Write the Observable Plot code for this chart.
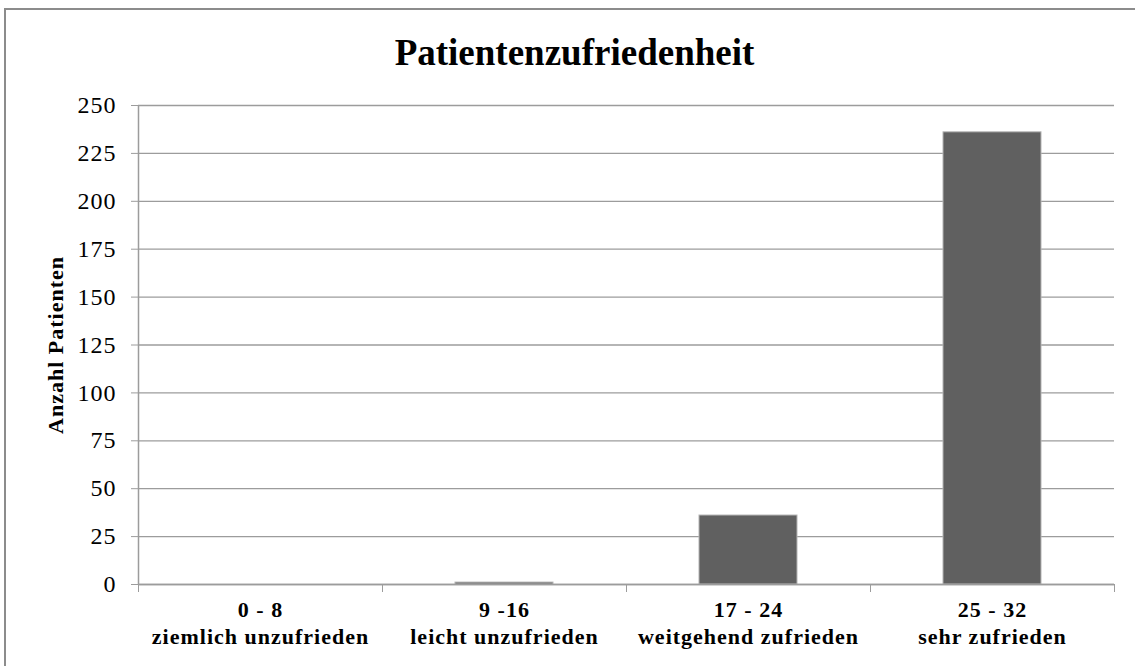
<!DOCTYPE html>
<html>
<head>
<meta charset="utf-8">
<script src="https://cdn.jsdelivr.net/npm/d3@7"></script>
<script src="https://cdn.jsdelivr.net/npm/@observablehq/plot@0.6"></script>
<style>
  body { margin: 0; background: #fff; }
  #chart { position: relative; width: 1135px; height: 666px; overflow: hidden; font-family: "Liberation Serif", "Times New Roman", serif; }
  #chart svg { position: absolute; left: 0; top: 0; }
  #chart svg text { font-family: "Liberation Serif", "Times New Roman", serif !important; letter-spacing: 1px; }
  #border { position: absolute; left: 4px; top: 8px; width: 1300px; height: 900px;
            border-left: 2px solid #8c8c8c; border-top: 2px solid #8c8c8c; pointer-events: none; }
  #title { position: absolute; left: 0; top: 34px; width: 1149px; text-align: center;
           font: bold 37px/37px "Liberation Serif", "Times New Roman", serif; color: #000; }
</style>
</head>
<body>
<div id="chart">
  <div id="border"></div>
  <div id="title">Patientenzufriedenheit</div>
</div>
<script>
// Score ranges of the satisfaction questionnaire and their verbal meaning
const ranges = ["0 - 8", "9 -16", "17 - 24", "25 - 32"];
const meanings = ["ziemlich unzufrieden", "leicht unzufrieden", "weitgehend zufrieden", "sehr zufrieden"];
// Number of patients per range
const counts = [0, 1, 36, 236];
// Value axis ticks
const yTicks = [0, 25, 50, 75, 100, 125, 150, 175, 200, 225, 250];

const rows = ranges.map((r, i) => ({i, range: r, meaning: meanings[i], count: counts[i]}));
const boundaries = d3.range(ranges.length + 1);

const grey = "#9c9c9c";

const plot = Plot.plot({
  width: 1135,
  height: 666,
  marginTop: 105,
  marginBottom: 82,
  marginLeft: 138,
  marginRight: 21,
  style: {fontFamily: "'Liberation Serif', 'Times New Roman', serif", fontSize: "24px", color: "#000", background: "transparent"},
  x: {domain: [0, ranges.length], axis: null},
  y: {domain: [0, 250], axis: null},
  marks: [
    Plot.gridY({ticks: yTicks, stroke: grey, strokeOpacity: 1, strokeWidth: 1.3}),
    Plot.rectY(rows, {x1: "i", x2: d => d.i + 1, y: "count", insetLeft: 73, insetRight: 73,
                      fill: "#606060", stroke: "#b4b4b4", strokeWidth: 1}),
    Plot.ruleY([0], {stroke: grey, strokeWidth: 1.5}),
    Plot.ruleX([0], {stroke: grey, strokeWidth: 1.5}),
    Plot.axisY({ticks: yTicks, tickSize: 7, tickPadding: 15, stroke: grey, fill: "#000", fontSize: 24, label: null}),
    Plot.axisX({ticks: boundaries, tickSize: 8, tickFormat: () => "", stroke: grey, label: null}),
    Plot.text(rows, {x: d => d.i + 0.5, y: 0, text: d => d.range + "\n" + d.meaning,
                     lineAnchor: "top", dy: 13, lineHeight: 1.23, fontSize: 22, fontWeight: "bold", fill: "#000"}),
    Plot.text(["Anzahl Patienten"], {frameAnchor: "left", rotate: -90, dx: -83, textAnchor: "middle",
                                     lineAnchor: "middle", fontSize: 22, fontWeight: "bold", fill: "#000"})
  ]
});

document.getElementById("chart").insertBefore(plot, document.getElementById("border"));
</script>
</body>
</html>
